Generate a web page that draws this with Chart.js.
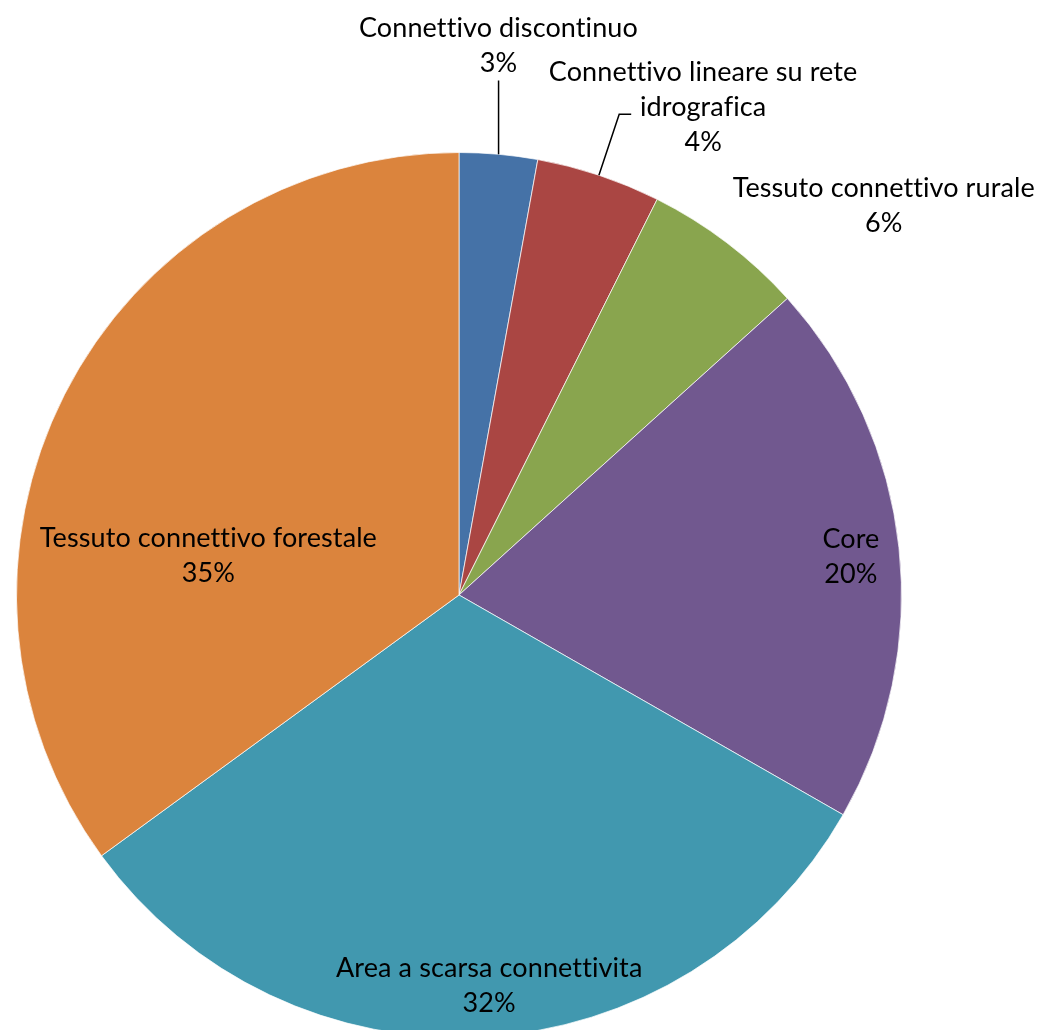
<!DOCTYPE html>
<html>
<head>
<meta charset="utf-8">
<script src="https://cdn.jsdelivr.net/npm/chart.js@4/dist/chart.umd.min.js"></script>
<style>
  html, body { margin: 0; padding: 0; background: #fff; overflow: hidden; }
  #wrap { width: 1051px; height: 1100px; }
</style>
</head>
<body>
<div id="wrap"><canvas id="pie" width="1051" height="1100"></canvas></div>
<script>
// Data (shares in %, clockwise from 12 o'clock)
const categories = [
  'Connettivo discontinuo',
  'Connettivo lineare su rete\nidrografica',
  'Tessuto connettivo rurale',
  'Core',
  'Area a scarsa connettivita',
  'Tessuto connettivo forestale'
];
const shares = [2.85, 4.54, 5.92, 19.96, 31.70, 35.03];
const percentLabels = ['3%', '4%', '6%', '20%', '32%', '35%'];
const sliceColors = ['#4572A7', '#AA4643', '#89A54E', '#71588F', '#4198AF', '#DB843D'];

// where each data label sits: fraction along the slice's angle, radius factor
const labelPlacement = [
  { frac: 0.40, r: 1.245, leader: 'vertical' },
  { frac: 1.00, r: 1.232, leader: 'elbow' },
  { frac: 0.98, r: 1.302 },
  { frac: 0.508, r: 0.89 },
  { frac: 0.489, r: 0.885 },
  { frac: 0.356, r: 0.573 }
];

const LINE_H = 35;
const FONT = '27px Lato, "Open Sans", sans-serif';

const pieLabels = {
  id: 'pieLabels',
  afterDatasetsDraw(chart) {
    const ctx = chart.ctx;
    const arcs = chart.getDatasetMeta(0).data;
    ctx.save();
    ctx.font = FONT;
    ctx.letterSpacing = '0.1px'; // keeps "tt" from joining into a ligature
    ctx.fillStyle = '#000';
    ctx.strokeStyle = '#000';
    ctx.lineWidth = 1.5;
    ctx.textAlign = 'center';
    ctx.textBaseline = 'middle';
    arcs.forEach((arc, i) => {
      const p = arc.getProps(['x', 'y', 'startAngle', 'endAngle', 'outerRadius'], true);
      const place = labelPlacement[i];
      const a = p.startAngle + place.frac * (p.endAngle - p.startAngle);
      const cx = p.x + Math.cos(a) * p.outerRadius * place.r;
      const cy = p.y + Math.sin(a) * p.outerRadius * place.r;
      const lines = categories[i].split('\n').concat([percentLabels[i]]);
      const n = lines.length;
      lines.forEach((t, k) => {
        ctx.fillText(t, cx, cy + (k - (n - 1) / 2) * LINE_H);
      });

      if (place.leader) {
        const mid = (p.startAngle + p.endAngle) / 2;
        const ex = p.x + Math.cos(mid) * p.outerRadius;
        const ey = p.y + Math.sin(mid) * p.outerRadius;
        ctx.beginPath();
        ctx.moveTo(ex, ey);
        if (place.leader === 'vertical') {
          ctx.lineTo(ex, cy + n * LINE_H / 2);
        } else {
          const bx = p.x + Math.cos(mid) * p.outerRadius * 1.145;
          const by = p.y + Math.sin(mid) * p.outerRadius * 1.145;
          ctx.lineTo(bx, by);
          ctx.lineTo(bx + 12, by);
        }
        ctx.stroke();
      }
    });
    ctx.restore();
  }
};

new Chart(document.getElementById('pie'), {
  type: 'pie',
  data: {
    labels: categories,
    datasets: [{
      data: shares,
      backgroundColor: sliceColors,
      borderColor: 'rgba(255,255,255,0.7)',
      borderWidth: 1
    }]
  },
  options: {
    responsive: false,
    animation: false,
    devicePixelRatio: 1,
    layout: { padding: { left: 16, right: 149, top: 152, bottom: 62 } },
    plugins: {
      legend: { display: false },
      tooltip: { enabled: false }
    }
  },
  plugins: [pieLabels]
});
</script>
</body>
</html>
